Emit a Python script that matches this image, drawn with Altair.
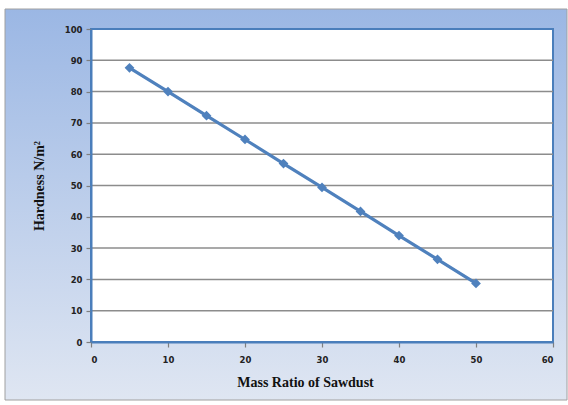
import altair as alt
import pandas as pd

mass_ratio = [5, 10, 15, 20, 25, 30, 35, 40, 45, 50]
hardness = [87.6, 80.0, 72.3, 64.7, 57.0, 49.4, 41.7, 34.0, 26.4, 18.7]
y_ticks = [0, 10, 20, 30, 40, 50, 60, 70, 80, 90, 100]
x_ticks = [0, 10, 20, 30, 40, 50, 60]

df = pd.DataFrame({"x": mass_ratio, "y": hardness})
grid_df = pd.DataFrame({"y": y_ticks[1:-1]})

W, H = 462, 313

bg = alt.Chart(pd.DataFrame({"a": [0]})).mark_rect(
    color=alt.LinearGradient(
        gradient="linear",
        stops=[alt.GradientStop(color="#9bb7e4", offset=0),
               alt.GradientStop(color="#dfe6f2", offset=1)],
        x1=0, x2=0, y1=0, y2=1),
    stroke="#a0a0a0", strokeWidth=1
).encode(x=alt.value(-86), x2=alt.value(W + 14), y=alt.value(-20), y2=alt.value(H + 58))

plotbg = alt.Chart(pd.DataFrame({"a": [0]})).mark_rect(
    color="white", stroke="#4a7ebb", strokeWidth=2
).encode(x=alt.value(0), x2=alt.value(W), y=alt.value(0), y2=alt.value(H))

xs = alt.Scale(domain=[0, 60], nice=False, zero=False)
ys = alt.Scale(domain=[0, 100], nice=False)

axis_common = dict(
    labelFont="DejaVu Sans", labelFontWeight="bold", labelFontSize=8.5,
    labelColor="#222222", tickColor="#7f7f7f", domainColor="#4a7ebb",
    domainWidth=2, titleFont="Liberation Serif", titleFontWeight="bold",
    titleColor="#111111", zindex=1, grid=False, labelOverlap=False,
    tickWidth=1.2,
)

x_axis = alt.Axis(values=x_ticks, title="Mass  Ratio of Sawdust",
                  titleFontSize=14, titlePadding=12, tickSize=5, labelPadding=8,
                  titleX=214, **axis_common)
y_axis = alt.Axis(values=y_ticks, title="Hardness N/m²",
                  titleFontSize=14, titlePadding=18, tickSize=5, labelPadding=4,
                  **axis_common)

grid = alt.Chart(grid_df).mark_rule(color="#8c8c8c", strokeWidth=1.5).encode(
    y=alt.Y("y:Q", scale=ys, axis=y_axis), x=alt.value(0), x2=alt.value(W)
)

line = alt.Chart(df).mark_line(
    color="#4f81bd", strokeWidth=3.2,
    point=alt.OverlayMarkDef(shape="diamond", size=95, color="#4f81bd", filled=True, opacity=1)
).encode(
    x=alt.X("x:Q", scale=xs, axis=x_axis),
    y=alt.Y("y:Q", scale=ys, axis=y_axis),
)

chart = alt.layer(bg, plotbg, grid, line).properties(
    width=W, height=H,
    autosize=alt.AutoSizeParams(type="none"),
    padding={"left": 91, "top": 29, "right": 15, "bottom": 63},
    background="white",
).configure_view(stroke=None)

chart.save("out.html", embed_options={"renderer": "svg", "actions": False})
